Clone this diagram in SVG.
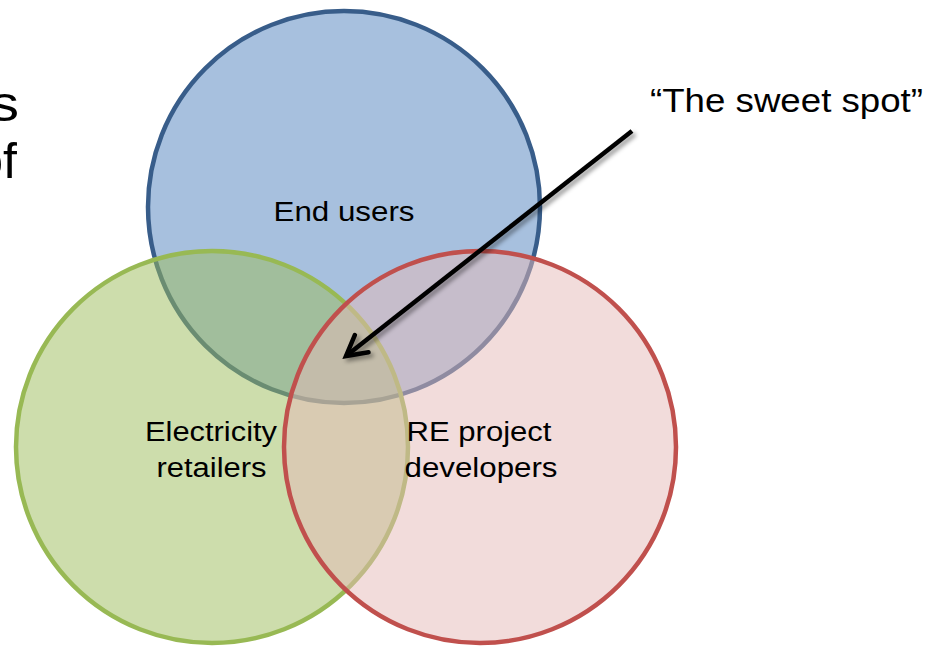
<svg xmlns="http://www.w3.org/2000/svg" width="928" height="648" viewBox="0 0 928 648">
<style>
  .lbl { font-family: "Liberation Sans", Arial, sans-serif; fill: #000; }
  .c { stroke-width: 4.5; fill-opacity: 0.5; }
</style>
<defs>
  <filter id="sh" x="-20%" y="-20%" width="140%" height="140%">
    <feDropShadow dx="3" dy="3" stdDeviation="2" flood-color="#000" flood-opacity="0.4"/>
  </filter>
  <marker id="ah" markerUnits="userSpaceOnUse" markerWidth="40" markerHeight="40" refX="0" refY="0" viewBox="-30 -20 40 40" orient="auto" overflow="visible">
    <path d="M-20,-11 L0,0 L-20,11" fill="none" stroke="#000" stroke-width="4.5" stroke-linecap="round" stroke-linejoin="miter"/>
  </marker>
</defs>
<rect width="928" height="648" fill="#fff"/>
<g id="left-text" class="lbl" font-size="50">
  <text transform="translate(19,121) scale(1.15,1)" text-anchor="end">s</text>
  <text transform="translate(17,178)" text-anchor="end">of</text>
</g>
<g id="end-users">
  <circle class="c" cx="344" cy="207" r="196" fill="#4F81BD" stroke="#385D8A"/>
</g>
<g id="electricity-retailers">
  <circle class="c" cx="212" cy="447" r="196" fill="#9BBB59" stroke="#98B954"/>
</g>
<g id="re-project-developers">
  <circle class="c" cx="480" cy="447" r="196" fill="#E6B9B8" stroke="#C0504D"/>
</g>
<g id="labels" class="lbl" font-size="27" text-anchor="middle">
  <text x="344" y="221" textLength="141" lengthAdjust="spacingAndGlyphs">End users</text>
  <text x="211" y="441" textLength="132" lengthAdjust="spacingAndGlyphs">Electricity</text>
  <text x="211.5" y="477" textLength="110" lengthAdjust="spacingAndGlyphs">retailers</text>
  <text x="479" y="441" textLength="145" lengthAdjust="spacingAndGlyphs">RE project</text>
  <text x="481" y="477" textLength="153" lengthAdjust="spacingAndGlyphs">developers</text>
</g>
<g id="sweet-spot">
  <text class="lbl" x="650" y="112" font-size="34" textLength="273" lengthAdjust="spacingAndGlyphs">“The sweet spot”</text>
</g>
<g id="connectors">
  <line x1="632" y1="131" x2="346" y2="356" stroke="#000" stroke-width="4.5" marker-end="url(#ah)" filter="url(#sh)"/>
</g>
</svg>
